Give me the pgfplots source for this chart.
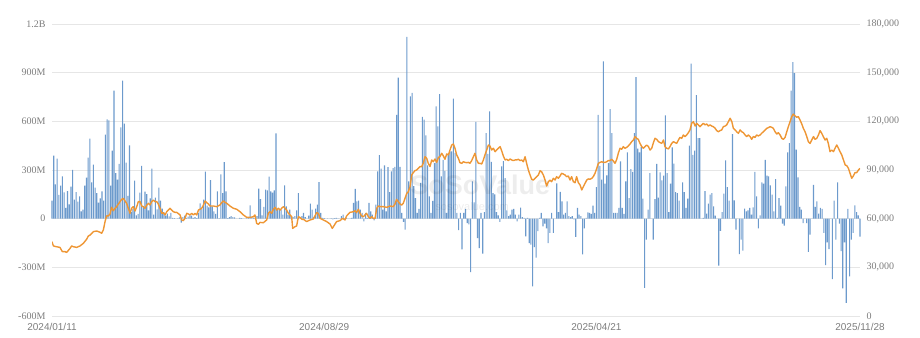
\documentclass[border=0pt]{standalone}
\usepackage{fontspec}
\setmainfont{Liberation Serif}
\newfontfamily\sansf{Liberation Sans}
\usepackage{pgfplots}
\usepackage{pgfplotstable}
\pgfplotsset{compat=1.18}
\definecolor{barblue}{RGB}{108,154,204}
\definecolor{lineorange}{RGB}{238,150,52}
\definecolor{gridgray}{RGB}{230,230,230}
\definecolor{ticktext}{RGB}{125,125,125}

\pgfplotstableread[row sep=\\]{
v\\
111\\388\\212\\370\\146\\203\\261\\162\\66\\170\\
88\\197\\300\\117\\164\\105\\138\\45\\55\\203\\
253\\376\\493\\224\\333\\191\\158\\99\\125\\168\\
111\\518\\612\\606\\203\\419\\789\\281\\240\\337\\
563\\851\\586\\345\\140\\452\\40\\60\\234\\20\\
30\\160\\325\\76\\166\\152\\51\\125\\308\\25\\
129\\58\\191\\111\\62\\39\\18\\31\\14\\35\\
5\\3\\0\\2\\8\\-25\\10\\18\\5\\12\\
20\\18\\5\\10\\3\\35\\94\\60\\117\\290\\
80\\70\\238\\75\\45\\30\\168\\3\\273\\158\\
349\\168\\3\\10\\15\\10\\8\\0\\0\\5\\
3\\0\\0\\2\\5\\82\\10\\5\\3\\15\\
185\\121\\20\\72\\179\\175\\259\\168\\160\\175\\
525\\55\\55\\55\\25\\205\\75\\25\\55\\15\\
10\\15\\51\\158\\10\\15\\35\\10\\0\\18\\
92\\55\\10\\62\\86\\226\\35\\5\\3\\0\\
2\\0\\3\\-5\\4\\5\\2\\0\\15\\25\\
3\\5\\0\\2\\5\\97\\183\\107\\111\\55\\
35\\-16\\35\\5\\97\\45\\25\\-10\\86\\292\\
392\\308\\55\\328\\45\\318\\164\\291\\312\\320\\
640\\870\\320\\35\\-20\\-68\\1120\\230\\754\\775\\
200\\127\\35\\60\\220\\627\\610\\514\\329\\138\\
35\\110\\343\\692\\569\\768\\261\\362\\295\\35\\
400\\415\\415\\740\\405\\35\\-70\\35\\-190\\35\\
60\\-28\\-35\\-330\\230\\100\\596\\-120\\-181\\35\\
-216\\40\\528\\400\\662\\350\\158\\150\\40\\20\\
-20\\322\\355\\250\\51\\15\\25\\55\\60\\25\\
-16\\25\\68\\10\\5\\-109\\5\\-150\\-160\\-417\\
-175\\-240\\-77\\5\\35\\-47\\-30\\-60\\-150\\-88\\
35\\-88\\0\\218\\40\\165\\107\\25\\35\\107\\
15\\10\\15\\-5\\-113\\66\\25\\15\\-220\\-60\\
5\\39\\35\\30\\80\\35\\195\\640\\326\\240\\
969\\216\\267\\343\\675\\528\\35\\35\\35\\66\\
353\\66\\30\\230\\408\\127\\306\\289\\528\\872\\
431\\408\\441\\123\\-427\\-129\\55\\281\\0\\-129\\
121\\337\\129\\285\\236\\265\\636\\281\\41\\216\\
439\\339\\164\\158\\111\\0\\224\\164\\66\\123\\
450\\955\\394\\419\\762\\497\\497\\0\\5\\170\\
31\\92\\148\\158\\76\\18\\0\\-290\\-76\\41\\
154\\359\\195\\111\\0\\521\\113\\-68\\0\\-218\\
-129\\-197\\62\\45\\51\\66\\25\\70\\289\\138\\
-60\\20\\224\\216\\363\\265\\261\\205\\148\\45\\
244\\5\\127\\80\\-31\\-43\\199\\408\\466\\790\\
965\\897\\425\\255\\72\\55\\-27\\0\\-27\\-205\\
-99\\0\\209\\72\\107\\31\\66\\60\\-88\\-287\\
-146\\-187\\0\\-372\\111\\-129\\224\\-31\\-200\\-430\\
-146\\-519\\60\\-355\\-129\\-88\\82\\41\\20\\-110\\
}\flows

\pgfplotstableread[row sep=\\]{
x y\\
0 45800\\0.8 43200\\2.6 42700\\4.6 42300\\6 39700\\7.5 39700\\8.5 39200\\10.5 41700\\11.4 43200\\12.4 42700\\
14.3 42300\\16.3 43200\\18.2 44800\\20.1 47300\\21.1 49300\\22.1 49900\\24 52000\\26 52400\\27.9 51600\\28.8 51000\\
29.8 53000\\30.8 58200\\31.7 61700\\32.7 61700\\33.7 62900\\34.6 67000\\35.6 64900\\36.6 66400\\37.5 67400\\38.5 69000\\
39.5 70500\\40.4 71900\\41.4 72500\\42.4 70900\\43.3 69500\\44.3 66400\\45.3 63300\\46.2 66400\\47.2 67400\\48.2 64700\\
49.2 67400\\50.1 70500\\51.1 70500\\52.1 67800\\53 67400\\54 66400\\55 68400\\56 69500\\56.9 68400\\57.9 70500\\
58.8 71500\\59.8 70500\\60.8 70500\\61.7 69000\\62.7 66400\\63.7 63300\\64.6 63700\\65.6 62300\\66.6 64300\\67.5 65300\\
68.5 66400\\69.5 65300\\70.4 64300\\71.4 63900\\72.4 63900\\74.3 62300\\75.3 59200\\76.2 58800\\77.2 60200\\78.2 63300\\
79.1 62900\\80.1 62300\\81.1 63300\\82.1 62300\\83 63300\\84 62300\\85 65300\\85.9 65800\\86.9 66400\\87.9 68400\\
88.8 70900\\89.8 69900\\90.8 69000\\91.7 67800\\93.7 67800\\95.6 67400\\97.5 68400\\98.5 69900\\99.5 70900\\100.4 70100\\
101.4 69500\\103.3 67800\\105.3 66400\\107.2 65800\\109.1 64300\\111.1 62300\\113 60800\\114.9 60800\\116.9 61200\\117.8 62300\\
118.8 57100\\119.8 56500\\120.7 57700\\122.7 57500\\124.6 59200\\125.6 63300\\126.5 64300\\127.5 63300\\128.5 65800\\129.5 67000\\
130.4 65300\\131.4 66400\\132.4 65300\\133.3 66400\\134.3 67400\\135.3 66400\\136.2 65300\\137.2 63300\\138.2 62300\\139.1 61200\\
139.7 54000\\141.1 55100\\142 55500\\143 61200\\143.9 60800\\145 59600\\146 59600\\147.8 58200\\149.8 59200\\151.7 59800\\
153.6 63700\\154.6 63300\\155.6 60200\\157.5 59200\\159.4 58200\\161.4 56700\\162.7 54000\\164.3 56700\\165.2 58200\\167.2 58800\\
168.7 60200\\170.1 59200\\171 61700\\173 63900\\175 64300\\175.9 64900\\176.8 63700\\177.8 65800\\178.8 63300\\179.7 61700\\
180.7 61200\\181.7 62300\\182.6 63300\\183.6 61200\\184.6 60200\\185.6 61200\\186.5 60200\\187.5 60200\\188.5 66400\\189.4 67800\\
190.4 67400\\192.3 67400\\194.3 67000\\196.2 67800\\198.1 67400\\199.1 69000\\200 71900\\201 70500\\202 69000\\203 68400\\
203.9 69500\\204.9 72500\\205.9 75600\\206.8 76600\\207.8 79700\\208.8 86900\\209.7 88400\\210.7 89600\\211.7 90000\\212.6 91000\\
213.6 92100\\214.6 92100\\215.5 94100\\216.5 98200\\217.5 97200\\218.4 94100\\219.4 92100\\220.4 96200\\221.3 95100\\222.3 96800\\
223.3 94700\\224.3 97800\\225.2 98200\\226.2 100300\\227.2 98600\\228.1 96600\\229.1 99900\\230.1 99300\\231 102300\\232 105400\\
233 106000\\233.9 103400\\234.9 99300\\235.9 97200\\236.8 94500\\237.8 94100\\238.8 95100\\239.7 94700\\240.7 94500\\241.7 94700\\
242.6 94100\\243.6 95800\\244.6 98200\\245.5 100300\\246.5 96200\\247.5 94100\\248.4 94100\\249.4 93700\\250.4 96200\\251.3 99300\\
252.3 102300\\253.3 105400\\254.2 104800\\255.2 102300\\256.2 103400\\257.2 101300\\258.1 102300\\259.1 103400\\260.1 104400\\261 101900\\
262 98600\\263 96200\\263.9 96600\\264.9 95800\\265.9 96800\\266.8 96200\\267.8 95800\\268.8 96200\\269.7 96200\\270.7 96600\\
271.7 95800\\272.6 96200\\273.6 95100\\274.6 98200\\275.5 94100\\276.5 90000\\277.5 86900\\278.4 84300\\279.4 83800\\280.4 84900\\
281.4 85900\\282.3 86900\\283.3 89600\\284.2 88900\\285.2 86900\\286.2 83800\\287.1 80100\\288.1 82800\\289.1 83800\\290 82800\\
291 84900\\292 83800\\292.9 85900\\293.9 84900\\294.9 86300\\295.8 88000\\296.8 87500\\297.8 86900\\298.7 85900\\299.7 86300\\
300.7 83800\\301.6 85900\\302.6 82800\\303.6 82200\\304.5 85900\\305.5 82200\\306.5 80800\\307.5 77700\\308.4 79700\\309.4 81800\\
310.4 83800\\311.3 84500\\312.3 84300\\313.3 84900\\314.2 85900\\315.2 88000\\316.2 91000\\317.1 94100\\318.1 94700\\319.1 95100\\
320 94700\\321 94700\\322 95100\\322.9 95800\\323.9 95800\\324.9 96600\\325.8 95600\\326.8 94100\\327.8 96600\\328.7 100300\\
329.7 103400\\330.7 102800\\331.6 104400\\332.6 103400\\333.6 104000\\334.5 104800\\335.5 106000\\336.5 107500\\337.5 108500\\338.4 110600\\
339.4 109500\\340.3 108900\\341.3 106400\\342.3 104400\\343.3 103400\\344.2 104400\\345.2 105400\\346.2 104400\\347.1 102300\\348.1 103400\\
349.1 106900\\350 109500\\351 108900\\352 107500\\352.9 106900\\353.9 106400\\354.9 108500\\355.8 104400\\356.8 103400\\357.8 103000\\
358.7 104400\\359.7 106400\\360.7 107500\\361.6 106900\\362.6 106400\\363.6 108500\\364.5 110100\\365.5 109500\\366.5 111600\\367.4 110600\\
368.4 111600\\369.4 113000\\370.3 114700\\371.3 118800\\372.3 119800\\373.3 117100\\374.2 118800\\375.2 117800\\376.1 116700\\377.1 117800\\
378.1 118800\\379.1 117800\\380 118400\\381 117100\\382 117800\\382.9 117100\\383.9 116700\\384.9 115700\\385.8 114300\\386.8 113600\\
387.8 114300\\388.7 114700\\389.7 116700\\390.7 117100\\391.6 117800\\392.6 119800\\393.6 121900\\394.6 119800\\395.5 115700\\396.5 114700\\
397.4 113600\\398.4 112600\\399.4 114700\\400.3 113600\\401.3 113000\\402.3 111600\\403.2 110600\\404.2 111600\\405.2 110600\\406.1 108900\\
407.1 110600\\408.1 110100\\409 111600\\410 111000\\411 111600\\411.9 112600\\412.9 113600\\413.9 114700\\414.9 115700\\415.8 116100\\
416.8 116700\\417.8 116300\\418.7 115700\\419.7 113600\\420.7 112200\\421.6 113000\\422.6 111600\\423.6 109500\\424.5 108900\\425.5 110100\\
426.5 113600\\427.4 116700\\428.4 119800\\429.4 122900\\430.3 124500\\431.3 123300\\432.3 122500\\433.2 122900\\434.2 120800\\435.2 118400\\
436.1 115700\\437.1 113600\\438.1 110600\\439 107500\\440 106400\\441 108500\\442 110600\\442.9 108900\\443.9 109500\\444.9 111600\\
445.8 114300\\446.8 112600\\447.7 110600\\448.7 108500\\449.7 109500\\450.6 106400\\451.6 101300\\452.6 102300\\453.6 101300\\454.5 103400\\
455.5 105400\\456.5 103400\\457.4 101300\\458.4 99300\\459.4 96200\\460.4 93100\\461.3 92700\\462.3 91000\\463.2 88000\\464.2 84900\\
465.1 86300\\466.1 88400\\467.1 88400\\468.1 90000\\469 91000\\
}\price

\begin{document}
\begin{tikzpicture}
\begin{axis}[
  at={(0,0)}, anchor=south west,
  scale only axis, width=808pt, height=292pt,
  xmin=0, xmax=469, ymin=-600, ymax=1200,
  ytick={-600,-300,0,300,600,900,1200},
  yticklabels={-600M,-300M,0,300M,600M,900M,1.2B},
  xtick={0,158,316,469},
  xticklabels={2024/01/11,2024/08/29,2025/04/21,2025/11/28},
  ymajorgrids, grid style={gridgray, line width=0.9pt},
  axis line style={draw=none}, major tick length=0pt,
  yticklabel style={font=\fontsize{10}{12}\selectfont, text=ticktext, xshift=-3pt},
  xticklabel style={font=\sansf\fontsize{10}{12}\selectfont, text=ticktext, yshift=-3.5pt},
  clip=false,
]
\addplot[ybar, bar width=1.1pt, fill=barblue, draw=none] table[x expr=\coordindex, y=v]{\flows};
\node[text=black, text opacity=0.07, font=\sansf\bfseries\fontsize{27}{27}\selectfont] at (rel axis cs:0.53,0.45) {SoSoValue};
\node[text=black, text opacity=0.07, font=\sansf\fontsize{11}{11}\selectfont] at (rel axis cs:0.52,0.375) {sosovalue.com};
\end{axis}
\begin{axis}[
  at={(0,0)}, anchor=south west,
  scale only axis, width=808pt, height=292pt,
  xmin=0, xmax=469, ymin=0, ymax=180000,
  axis y line*=right, axis x line=none,
  axis line style={draw=none}, major tick length=0pt,
  ytick={0,30000,60000,90000,120000,150000,180000},
  yticklabels={0,{30,000},{60,000},{90,000},{120,000},{150,000},{180,000}},
  scaled y ticks=false,
  yticklabel style={font=\fontsize{10}{12}\selectfont, text=ticktext, xshift=3pt},
]
\addplot[lineorange, line width=1.4pt, line join=round, mark=none] table[x=x, y=y]{\price};
\end{axis}
\pgfresetboundingbox
\path[use as bounding box] (-52pt,-21pt) rectangle (868pt,316pt);
\end{tikzpicture}
\end{document}
